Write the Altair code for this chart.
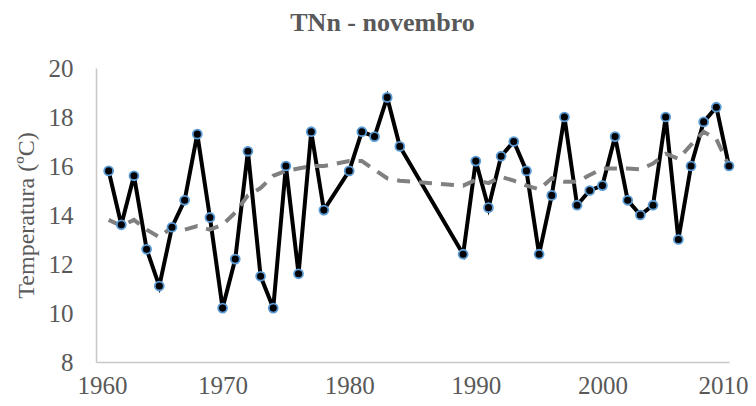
import altair as alt
import pandas as pd

years = [1961, 1962, 1963, 1964, 1965, 1966, 1967, 1968, 1969, 1970,
         1971, 1972, 1973, 1974, 1975, 1976, 1977, 1978, 1980, 1981,
         1982, 1983, 1984, 1989, 1990, 1991, 1992, 1993, 1994, 1995,
         1996, 1997, 1998, 1999, 2000, 2001, 2002, 2003, 2004, 2005,
         2006, 2007, 2008, 2009, 2010]
tnn = [15.8, 13.6, 15.6, 12.6, 11.1, 13.5, 14.6, 17.3, 13.9, 10.2,
       12.2, 16.6, 11.5, 10.2, 16.0, 11.6, 17.4, 14.2, 15.8, 17.4,
       17.2, 18.8, 16.8, 12.4, 16.2, 14.3, 16.4, 17.0, 15.8, 12.4,
       14.8, 18.0, 14.4, 15.0, 15.2, 17.2, 14.6, 14.0, 14.4, 18.0,
       13.0, 16.0, 17.8, 18.4, 16.0]
trend = [13.8, 13.55, 13.8, 13.4, 13.1, 13.5, 13.4, 13.55, 13.4, 13.6,
         14.1, 14.8, 15.1, 15.6, 15.8, 15.9, 16.0, 16.0, 16.2, 16.2,
         15.85, 15.5, 15.4, 15.2, 15.43, 15.3, 15.56, 15.4, 15.2, 15.05,
         15.5, 15.36, 15.36, 15.63, 15.9, 15.9, 15.9, 15.86, 16.1, 16.5,
         16.3, 16.86, 17.4, 17.1, 16.0]

df = pd.DataFrame({"ano": years, "tnn": tnn, "tend": trend})

FONT = "Liberation Serif"
GREY = "#595959"

x = alt.X("ano:Q", scale=alt.Scale(domain=[1960, 2010], nice=False, zero=False),
          axis=alt.Axis(title=None, values=[1960, 1970, 1980, 1990, 2000, 2010],
                        format="d", labelFont=FONT, labelFontSize=25, labelColor=GREY,
                        ticks=False, grid=False, domainColor="#c8c8c8", domainWidth=1.5,
                        labelPadding=11, labelFlush=True, labelFlushOffset=19))
y_axis = alt.Axis(title="Temperatura (ºC)", values=[8, 10, 12, 14, 16, 18, 20],
                  labelFont=FONT, labelFontSize=25, labelColor=GREY,
                  titleFont=FONT, titleFontSize=24, titleColor=GREY, titleFontWeight="normal",
                  ticks=False, grid=False, domainColor="#c8c8c8", domainWidth=1.5,
                  labelPadding=23, titlePadding=10)

base = alt.Chart(df)

line = base.mark_line(color="black", strokeWidth=4).encode(
    x=x, y=alt.Y("tnn:Q", scale=alt.Scale(domain=[8, 20], nice=False, zero=False), axis=y_axis))

tline = base.mark_line(color="#808080", strokeWidth=4, strokeDash=[13, 9]).encode(
    x="ano:Q", y="tend:Q")

pts = base.mark_point(filled=True, shape="circle", size=80, color="black",
                      stroke="#5b9bd5", strokeWidth=1.8, opacity=1).encode(
    x="ano:Q", y="tnn:Q")

chart = alt.layer(line, tline, pts).properties(
    width=633, height=294,
    autosize=alt.AutoSizeParams(type="none"),
    padding={"left": 88, "top": 60, "right": 19, "bottom": 36},
    title=alt.TitleParams("TNn - novembro", font=FONT, fontSize=26, fontWeight="bold",
                          color=GREY, anchor="middle", dx=-30, offset=20),
).configure_view(stroke=None)

chart.save("out.html", embed_options={"renderer": "svg", "actions": False})
